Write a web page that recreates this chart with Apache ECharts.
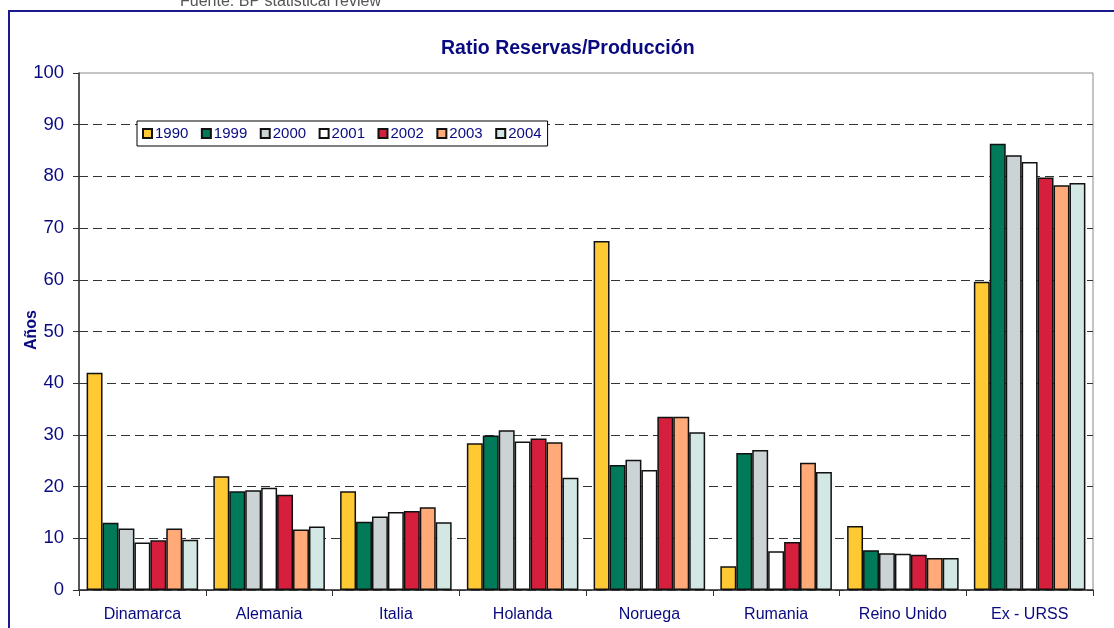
<!DOCTYPE html>
<html>
<head>
<meta charset="utf-8">
<script src="https://cdn.jsdelivr.net/npm/echarts@6/dist/echarts.min.js"></script>
<style>
  html, body { margin: 0; padding: 0; background: #fff; }
  #chart { width: 1114px; height: 628px; }
</style>
</head>
<body>
<div id="chart"></div>
<script>
// Reserves-to-production ratio (years) by country, BP statistical review
const countries = ['Dinamarca', 'Alemania', 'Italia', 'Holanda', 'Noruega', 'Rumania', 'Reino Unido', 'Ex - URSS'];
const years = ['1990', '1999', '2000', '2001', '2002', '2003', '2004'];

const r1990 = [42.0, 22.0, 19.1, 28.4, 67.5, 4.6, 12.4, 59.6];
const r1999 = [13.0, 19.1, 13.2, 29.9, 24.2, 26.5, 7.7, 86.3];
const r2000 = [11.9, 19.3, 14.2, 30.9, 25.2, 27.1, 7.1, 84.1];
const r2001 = [9.2, 19.8, 15.1, 28.7, 23.2, 7.5, 7.0, 82.8];
const r2002 = [9.6, 18.4, 15.3, 29.3, 33.5, 9.3, 6.8, 79.8];
const r2003 = [11.9, 11.7, 16.0, 28.6, 33.5, 24.6, 6.2, 78.3];
const r2004 = [9.7, 12.3, 13.1, 21.7, 30.5, 22.8, 6.2, 78.7];

const yTicks = [0, 10, 20, 30, 40, 50, 60, 70, 80, 90, 100];

const seriesValues = [r1990, r1999, r2000, r2001, r2002, r2003, r2004];
const seriesColors = ['#FFC933', '#007A58', '#CBD3D4', '#FFFFFF', '#D61F3C', '#FFAA78', '#D3E7E4'];

const navy = '#0A0A80';
const font = 'Arial, "Liberation Sans", sans-serif';

const chart = echarts.init(document.getElementById('chart'), null, { renderer: 'canvas' });

chart.setOption({
  backgroundColor: '#fff',
  animation: false,
  title: {
    text: 'Ratio Reservas/Producción',
    left: 436,
    top: 34,
    textStyle: { color: navy, fontSize: 19.5, fontWeight: 'bold', fontFamily: font }
  },
  legend: {
    data: years,
    left: 137,
    top: 121,
    orient: 'horizontal',
    icon: 'rect',
    itemWidth: 9,
    itemHeight: 9,
    itemGap: 12.5,
    padding: [5, 6, 5, 5],
    borderColor: '#000',
    borderWidth: 1,
    backgroundColor: '#fff',
    textStyle: { color: navy, fontSize: 15, fontFamily: font, padding: [0, 0, 0, -2] }
  },
  grid: {
    left: 79,
    right: 21,
    top: 73,
    bottom: 38,
    show: true,
    borderColor: '#8a8a8a',
    borderWidth: 1
  },
  xAxis: {
    type: 'category',
    data: countries,
    axisLine: { lineStyle: { color: '#333', width: 1.5 } },
    axisTick: { show: true, length: 6, lineStyle: { color: '#333' } },
    axisLabel: { color: navy, fontSize: 16, fontFamily: font, margin: 17 }
  },
  yAxis: {
    type: 'value',
    min: yTicks[0],
    max: yTicks[yTicks.length - 1],
    interval: yTicks[1] - yTicks[0],
    axisLine: { show: true, lineStyle: { color: '#333', width: 1.5 } },
    axisTick: { show: true, length: 6, lineStyle: { color: '#333' } },
    axisLabel: { color: navy, fontSize: 18.5, fontFamily: font, margin: 15 },
    splitLine: {
      show: true,
      showMaxLine: false,
      lineStyle: { color: '#333', type: [9, 5], width: 1 }
    }
  },
  series: years.map((y, i) => ({
    name: y,
    type: 'bar',
    data: seriesValues[i],
    barGap: '0%',
    barCategoryGap: '12%',
    itemStyle: { color: seriesColors[i], borderColor: '#111', borderWidth: 1.5 }
  })),
  graphic: [
    {
      type: 'rect',
      shape: { x: 9, y: 11, width: 1200, height: 700 },
      style: { fill: 'none', stroke: '#1a1a8c', lineWidth: 2 },
      silent: true,
      z: 100
    },
    {
      type: 'text',
      left: 180,
      top: -6,
      style: {
        text: 'Fuente: BP statistical review',
        fill: '#555',
        font: '16px ' + font
      },
      silent: true
    },
    {
      // y-axis title, rotated
      type: 'text',
      x: 32,
      y: 330,
      rotation: Math.PI / 2,
      style: {
        text: 'Años',
        fill: navy,
        font: 'bold 16px ' + font,
        align: 'center',
        verticalAlign: 'middle'
      },
      silent: true
    }
  ]
});
</script>
</body>
</html>
